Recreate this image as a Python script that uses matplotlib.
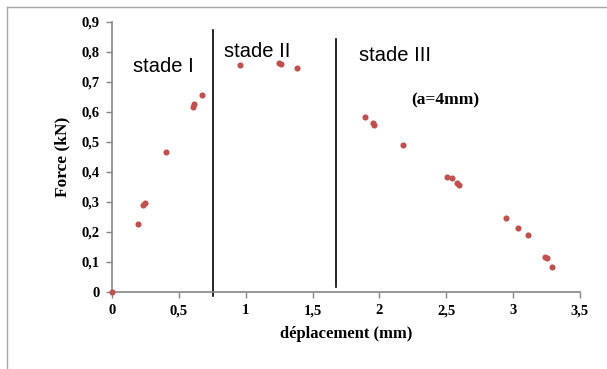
import numpy as np
import matplotlib.pyplot as plt
from matplotlib.lines import Line2D

# données (a=4mm)
deplacement = [0.0, 0.192, 0.235, 0.245, 0.401, 0.608, 0.616, 0.673,
               0.957, 1.252, 1.262, 1.386,
               1.895, 1.950, 1.962, 2.179, 2.503, 2.541, 2.578, 2.598,
               2.947, 3.037, 3.109, 3.236, 3.251, 3.293]
force = [0.0, 0.228, 0.29, 0.298, 0.467, 0.618, 0.628, 0.657,
         0.757, 0.762, 0.760, 0.748,
         0.582, 0.562, 0.557, 0.490, 0.384, 0.379, 0.362, 0.357,
         0.247, 0.213, 0.189, 0.118, 0.112, 0.082]
limites_stades = [0.753, 1.673]
stades = ['stade I', 'stade II', 'stade III']

serif = 'Liberation Serif'
sans = 'Liberation Sans'

fig = plt.figure(figsize=(6.07, 3.69), dpi=100)
ax = fig.add_axes([0.1845, 0.2087, 0.771, 0.7317])

ax.plot(deplacement, force, 'o', color='#C0504D', markersize=4.4,
        markeredgewidth=0, clip_on=False, zorder=3)

# séparation des stades
ax.plot([limites_stades[0]] * 2, [-0.013, 0.873], color='black', lw=1.2, clip_on=False)
ax.plot([limites_stades[1]] * 2, [0.017, 0.843], color='black', lw=1.2, clip_on=False)

ax.text(0.157, 0.75, stades[0], fontsize=14.5, family=sans, va='center')
ax.text(0.84, 0.802, stades[1], fontsize=14.5, family=sans, va='center')
ax.text(1.845, 0.788, stades[2], fontsize=14.5, family=sans, va='center')
ax.text(2.24, 0.64, '(a=4mm)', fontsize=12.5, family=serif,
        fontweight='bold', va='center')

ax.set_xlim(0, 3.5)
ax.set_ylim(0, 0.9)
ax.set_xticks(np.arange(0, 3.51, 0.5))
ax.set_yticks(np.arange(0, 0.91, 0.1))
ax.set_xticklabels(['0', '0,5', '1', '1,5', '2', '2,5', '3', '3,5'])
ax.set_yticklabels(['0'] + ['0,%d' % i for i in range(1, 10)])
for lab in ax.get_xticklabels() + ax.get_yticklabels():
    lab.set_family(serif)
    lab.set_fontweight('bold')
    lab.set_fontsize(10.5)
ax.tick_params(direction='out', length=4, color='#868686', width=1, pad=5)

for s in ['top', 'right']:
    ax.spines[s].set_visible(False)
for s in ['left', 'bottom']:
    ax.spines[s].set_color('#868686')
    ax.spines[s].set_linewidth(1.2)

ax.set_xlabel('déplacement (mm)', family=serif, fontweight='bold', fontsize=12, labelpad=6)
ax.set_ylabel('Force (kN)', family=serif, fontweight='bold', fontsize=12.5, labelpad=8)

# cadre de la zone graphique
fig.add_artist(Line2D([7 / 607, 7 / 607], [0, 1 - 7 / 369], color='#A6A6A6', lw=1))
fig.add_artist(Line2D([7 / 607, 1], [1 - 7 / 369, 1 - 7 / 369], color='#A6A6A6', lw=1))

plt.savefig('out.png')
